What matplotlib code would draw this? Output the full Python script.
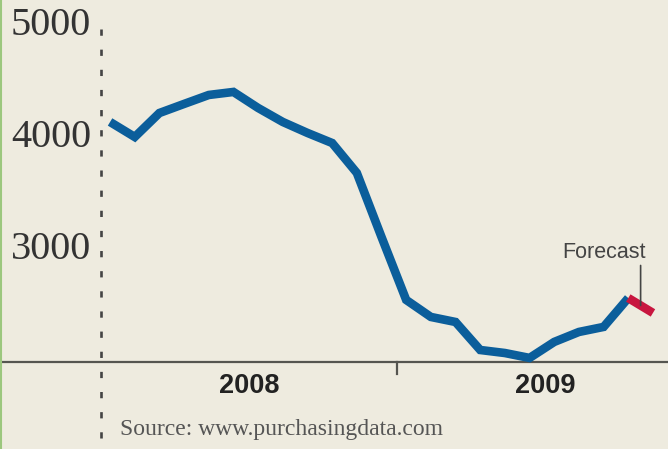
import numpy as np
import matplotlib
import matplotlib.pyplot as plt
import matplotlib.transforms as mtransforms
from matplotlib.lines import Line2D

matplotlib.use("Agg")
plt.rcParams["lines.scale_dashes"] = False

# monthly index, 0 = Jan 2008
months = np.arange(22) + 0.37
values = [4143, 4009, 4223, 4304, 4384, 4411, 4268, 4143, 4045, 3955, 3688,
          3116, 2554, 2402, 2357, 2107, 2080, 2036, 2179, 2268, 2313, 2571]
fc_months = np.array([21, 22]) + 0.37
fc_values = [2571, 2438]
y_ticks = [3000, 4000, 5000]
years = ["2008", "2009"]
year_centers = [6, 18]

BG = "#eeebdf"
BLUE = "#0b5e9b"
RED = "#c8163f"
INK = "#333333"

fig = plt.figure(figsize=(6.68, 4.49), dpi=100)
fig.patch.set_facecolor(BG)
ax = fig.add_axes([0, 0, 1, 1])
ax.set_facecolor(BG)
ax.set_axis_off()
ax.set_xlim(-4.09, 22.98)
ax.set_ylim(1223, 5232)

# baseline and year divider tick
ax.axhline(2000, color="#555550", lw=1.6, zorder=2)
ax.plot([12, 12], [2000, 1893], color="#555550", lw=1.6, zorder=2)

# dashed start-of-2008 line, drawn top-down so the pattern starts at the top
ax.axvline(0, ymin=0.935, ymax=0, color="#444444", lw=1.9,
           linestyle=(0, (4.5, 10)), zorder=1)

ax.plot(months, values, color=BLUE, lw=6.2, solid_joinstyle="miter",
        solid_capstyle="butt", zorder=3)
ax.plot(fc_months, fc_values, color=RED, lw=6.2, solid_joinstyle="miter",
        solid_capstyle="butt", zorder=3)

# y labels
lab_tr = mtransforms.blended_transform_factory(fig.transFigure, ax.transData)
for v in y_ticks:
    ax.text(91 / 668, v, str(v), transform=lab_tr, ha="right", va="center",
            fontsize=29, family="Liberation Serif", color=INK)

for yr, c in zip(years, year_centers):
    ax.annotate(yr, xy=(c, 2000), xytext=(0, -24), textcoords="offset pixels",
                ha="center", va="center", fontsize=19.5, fontweight="bold",
                family="Liberation Sans", color="#222222")

# forecast callout
mid_x = np.mean(fc_months)
mid_y = np.mean(fc_values)
ax.annotate("", xy=(mid_x, mid_y), xytext=(0, 40), textcoords="offset pixels",
            arrowprops=dict(arrowstyle="-", color="#444444", lw=1.2,
                            shrinkA=0, shrinkB=0), zorder=4)
ax.annotate("Forecast", xy=(mid_x, mid_y), xytext=(5, 53),
            textcoords="offset pixels", ha="right", va="center",
            fontsize=15.5, family="Liberation Sans", color="#444444")

fig.text(120 / 668, 1 - 430 / 449, "Source: www.purchasingdata.com",
         ha="left", va="center", fontsize=17, family="Liberation Serif",
         color="#555555")

# thin green frame edge on the left
fig.add_artist(Line2D([0.0015, 0.0015], [0, 1], transform=fig.transFigure,
                      color="#9cc77e", lw=1.5))

fig.savefig("out.png", dpi=100, facecolor=fig.get_facecolor())
